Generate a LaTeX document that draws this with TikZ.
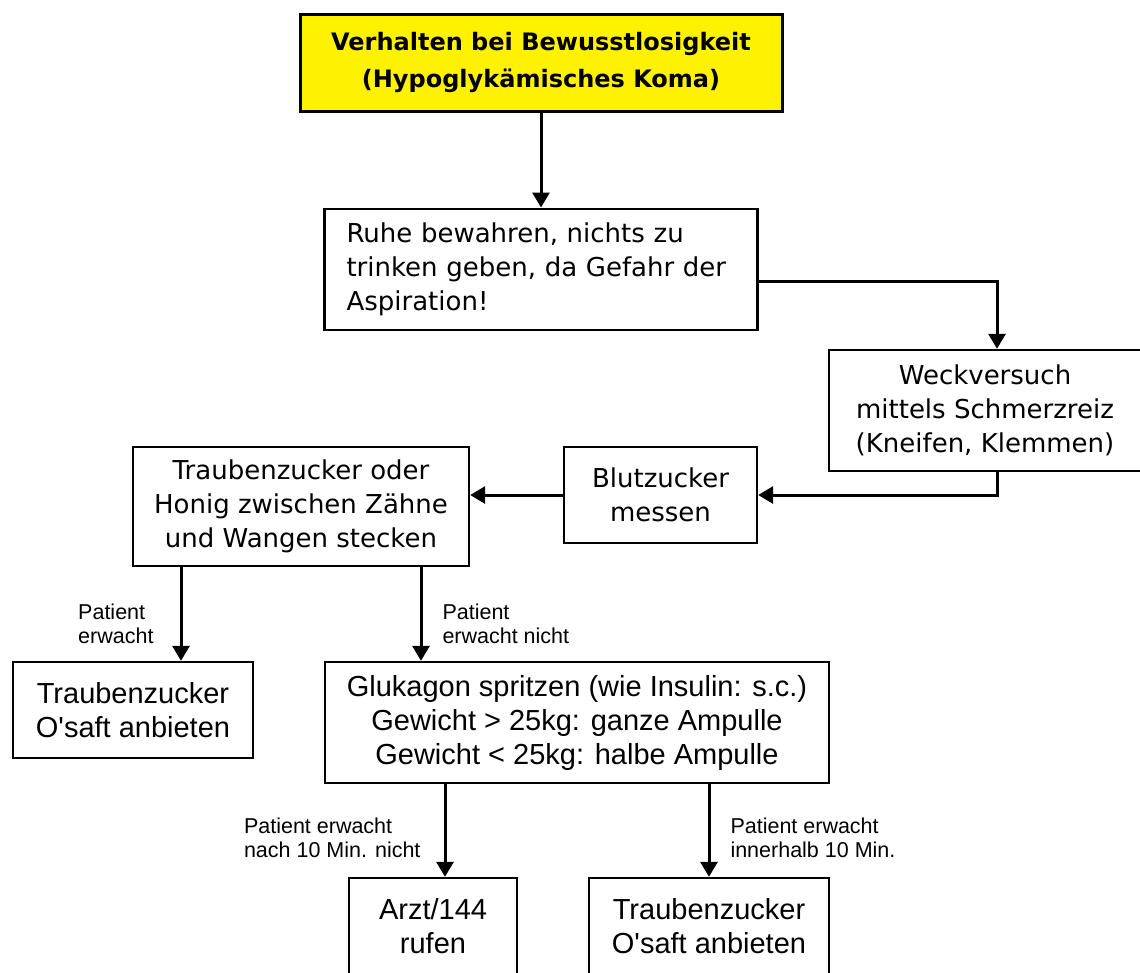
\documentclass[tikz,border=0pt]{standalone}
\usepackage{fontspec}
\setmainfont{DejaVu Sans}
\newfontfamily\arialfont{Liberation Sans}
\usetikzlibrary{arrows.meta,positioning}

\begin{document}
\begin{tikzpicture}[
    x=1pt, y=-1pt,
    line width=3pt,
    box/.style={draw, line width=2.4pt, inner sep=0pt},
    header/.style={box, line width=3pt, fill=yellow, align=center, minimum width=482pt, minimum height=97pt, font=\bfseries\fontsize{24}{37}\selectfont},
    action/.style={box, align=center, font=\fontsize{26}{34}\selectfont},
    reaction/.style={box, align=center, font=\arialfont\fontsize{29}{34}\selectfont},
    cond/.style={align=left, inner sep=0pt, font=\arialfont\fontsize{21.5}{24}\selectfont},
    >={Triangle[length=15pt,width=17pt]}
  ]
    \useasboundingbox (0,0) rectangle (1140,972);

    \node[header] (title) at (541,62.5) {Verhalten bei Bewusstlosigkeit\\(Hypoglykämisches Koma)};
    \node[action, align=left, text width=389pt, minimum width=433pt, minimum height=121pt, below=95pt of title] (ruhe) {Ruhe bewahren, nichts zu\\trinken geben, da Gefahr der\\Aspiration!};
    \node[action, minimum width=312pt, minimum height=121pt] (weck) at (985,410.5) {Weckversuch\\mittels Schmerzreiz\\(Kneifen, Klemmen)};
    \node[action, minimum width=193pt, minimum height=96pt] (blut) at (660.5,495) {Blutzucker\\messen};
    \node[action, minimum width=336pt, minimum height=119pt] (trauben) at (301,506.5) {Traubenzucker oder\\Honig zwischen Zähne\\und Wangen stecken};

    \node[reaction, minimum width=240pt, minimum height=96pt] (saftA) at (133,710) {Traubenzucker\\O\textquotesingle saft anbieten};
    \node[reaction, minimum width=504pt, minimum height=121pt] (gluk) at (577,722.5) {Glukagon spritzen (wie Insulin: s.c.)\\Gewicht > 25kg: ganze Ampulle\\Gewicht < 25kg: halbe Ampulle};
    \node[reaction, minimum width=168pt, minimum height=96pt] (arzt) at (433,926) {Arzt/144\\rufen};
    \node[reaction, minimum width=240pt, minimum height=96pt] (saftB) at (709,926) {Traubenzucker\\O\textquotesingle saft anbieten};

    \draw[->] (title.south) -- (title.south |- ruhe.north);
    \draw[->] ([yshift=-12pt]ruhe.east) -| ([xshift=12pt]weck.north);
    \draw[->] ([xshift=12pt]weck.south) |- (blut.east);
    \draw[->] (blut.west) -- (blut.west -| trauben.east);
    \draw[->] ([xshift=48pt]saftA.north |- trauben.south) -- ([xshift=48pt]saftA.north)
        node[cond, pos=0.6, anchor=east, xshift=-26pt] (wach) {Patient\\erwacht};
    \draw[->] ([xshift=-156pt]gluk.north |- trauben.south) -- ([xshift=-156pt]gluk.north)
        node[cond, pos=0.6, anchor=west, xshift=20pt] (nichtwach) {Patient\\erwacht nicht};
    \draw[->] ([xshift=12pt]arzt.north |- gluk.south) -- ([xshift=12pt]arzt.north)
        node[cond, pos=0.58, anchor=east, xshift=-23pt] (spaet) {Patient erwacht\\nach 10 Min. nicht};
    \draw[->] (saftB.north |- gluk.south) -- (saftB.north)
        node[cond, pos=0.58, anchor=west, xshift=20pt] (frueh) {Patient erwacht\\innerhalb 10 Min.};
  \end{tikzpicture}
\end{document}
